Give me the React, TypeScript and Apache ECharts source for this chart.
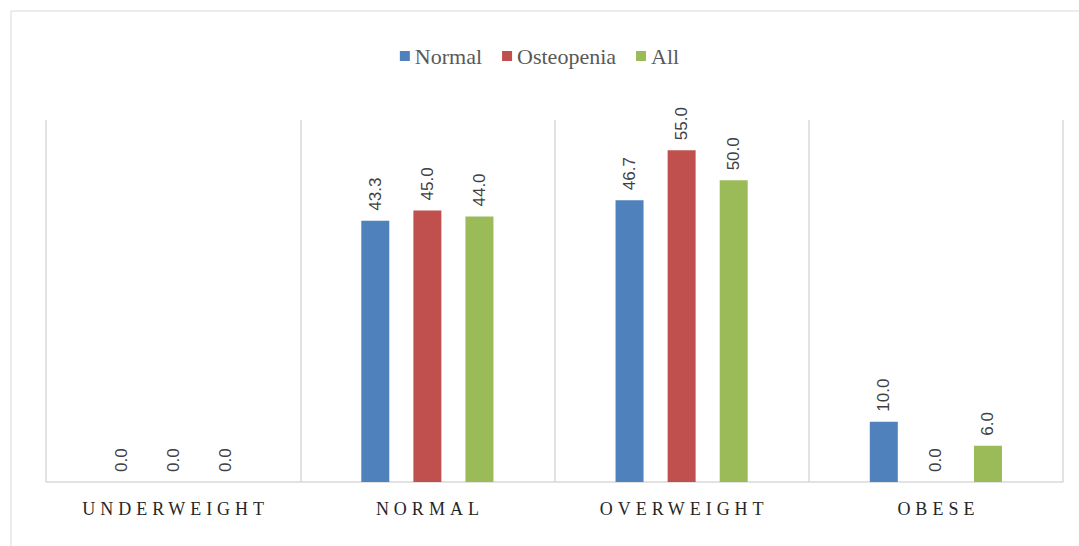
import React, { useEffect, useRef } from "react";
import * as echarts from "echarts";

const categories = ["UNDERWEIGHT", "NORMAL", "OVERWEIGHT", "OBESE"];
const seriesNames = ["Normal", "Osteopenia", "All"];
const normalValues = [0.0, 43.3, 46.7, 10.0];
const osteopeniaValues = [0.0, 45.0, 55.0, 0.0];
const allValues = [0.0, 44.0, 50.0, 6.0];
const colors = ["#4f81bd", "#c0504d", "#9bbb59"];

export default function App() {
  const ref = useRef<HTMLDivElement>(null);
  useEffect(() => {
    document.body.style.margin = "0";
    const el = ref.current!;
    const chart = echarts.init(el, undefined, { renderer: "svg" });
    const dataSets = [normalValues, osteopeniaValues, allValues];
    const serif = "Liberation Serif";
    const legendText = {
      fontFamily: serif,
      fontSize: 22,
      color: "#595959",
      rich: { s: { fontFamily: serif, fontSize: 22, color: "#595959" } },
    };
    const label = {
      show: true,
      position: "top",
      rotate: 90,
      align: "left",
      verticalAlign: "middle",
      distance: 10,
      color: "#404040",
      fontFamily: "Liberation Sans",
      fontSize: 17,
      formatter: (p: any) => Number(p.value).toFixed(1),
    };
    chart.setOption({
      animation: false,
      graphic: [
        {
          type: "rect",
          shape: { x: 11, y: 11, width: 1200, height: 700 },
          style: { fill: "none", stroke: "#d9d9d9", lineWidth: 1 },
          silent: true,
        },
      ],
      legend: {
        top: 40,
        left: "center",
        itemWidth: 10,
        itemHeight: 10,
        itemGap: 20,
        icon: "rect",
        textStyle: legendText,
        formatter: "{s|{name}}",
        data: seriesNames,
      },
      grid: { left: 46, right: 16, top: 120, bottom: 64, containLabel: false },
      xAxis: {
        type: "category",
        data: categories,
        axisLine: { lineStyle: { color: "#d9d9d9", width: 1.5 } },
        axisTick: { show: false },
        splitLine: { show: true, interval: 0, lineStyle: { color: "#d9d9d9", width: 1.5 } },
        axisLabel: {
          interval: 0,
          margin: 18,
          fontFamily: serif,
          fontSize: 18,
          color: "#262626",
        },
      },
      yAxis: {
        type: "value",
        min: 0,
        max: 60,
        show: false,
        splitLine: { show: false },
      },
      series: seriesNames.map((name, i) => ({
        name,
        type: "bar",
        data: dataSets[i],
        barWidth: 28,
        barGap: "86%",
        itemStyle: { color: colors[i] },
        label,
      })),
    });
    const applySpacing = () => {
      el.querySelectorAll("text").forEach((t) => {
        const s = (t.textContent || "").trim();
        if (categories.includes(s)) {
          t.setAttribute("letter-spacing", "5");
          t.setAttribute("dx", "2.5");
        }
        if (seriesNames.includes(s)) {
          (t as SVGTextElement).style.fontFamily = serif;
        }
      });
    };
    chart.on("finished", applySpacing);
    applySpacing();
    const timer = setTimeout(applySpacing, 50);
    return () => {
      clearTimeout(timer);
      chart.dispose();
    };
  }, []);
  return <div ref={ref} style={{ width: 1079, height: 546 }} />;
}
